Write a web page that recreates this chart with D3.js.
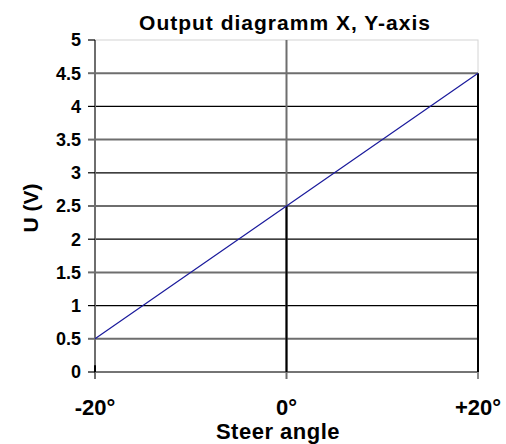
<!DOCTYPE html>
<html>
<head>
	<title>Output diagramm</title>
	<script src="https://d3js.org/d3.v7.min.js"></script>
	<style>
		body { margin: 0; background: #fff; }
		text {
			font-family: "Liberation Sans", Arial, sans-serif;
			font-weight: bold;
			fill: #000;
		}
	</style>
</head>
<body>
	<svg width="506" height="444"></svg>
<script type="text/javascript">

	// chart data
	var angles = [-20, 0, 20];
	var voltages = [0.5, 2.5, 4.5];
	var xTickLabels = ["-20°", "0°", "+20°"];
	var yTicks = [0, 0.5, 1, 1.5, 2, 2.5, 3, 3.5, 4, 4.5, 5];
	var yTickLabels = ["0", "0.5", "1", "1.5", "2", "2.5", "3", "3.5", "4", "4.5", "5"];

	var svg = d3.select("svg"),
		margin = {top: 40, right: 28, bottom: 72, left: 95},
		width = +svg.attr("width") - margin.left - margin.right,
		height = +svg.attr("height") - margin.top - margin.bottom,
		g = svg.append("g").attr("transform", "translate(" + margin.left + "," + margin.top + ")");

	var x = d3.scaleLinear().domain([-20, 20]).range([0, width]);
	var y = d3.scaleLinear().domain([0, 5]).range([height, 0]);

	var points = angles.map(function (a, i) { return {a: a, v: voltages[i]}; });

	// plot border (light)
	g.append("rect")
		.attr("x", 0).attr("y", 0)
		.attr("width", width).attr("height", height)
		.attr("fill", "none")
		.attr("stroke", "#d4d4d4")
		.attr("stroke-width", 1);

	// horizontal grid lines
	g.append("g")
		.selectAll("line")
		.data(yTicks.filter(function (d) { return d < 5; }))
		.enter().append("line")
		.attr("x1", 0).attr("x2", width)
		.attr("y1", function (d) { return y(d); })
		.attr("y2", function (d) { return y(d); })
		.attr("stroke", function (d) { return d % 1 === 0 ? "#000" : "#6e6e6e"; })
		.attr("stroke-width", function (d) { return d % 1 === 0 ? 1.2 : 2; });

	// vertical grid line at 0 (extends below as tick)
	g.append("line")
		.attr("x1", x(0)).attr("x2", x(0))
		.attr("y1", 0).attr("y2", height + 7)
		.attr("stroke", "#6e6e6e")
		.attr("stroke-width", 2);

	// x tick marks at both ends
	g.append("g")
		.selectAll("line")
		.data([20])
		.enter().append("line")
		.attr("x1", function (d) { return x(d); })
		.attr("x2", function (d) { return x(d); })
		.attr("y1", height).attr("y2", height + 7)
		.attr("stroke", "#8a8a8a")
		.attr("stroke-width", 2);

	// drop lines from each point
	g.append("g")
		.selectAll("line")
		.data(points)
		.enter().append("line")
		.attr("x1", function (d) { return x(d.a); })
		.attr("x2", function (d) { return x(d.a); })
		.attr("y1", function (d) { return y(d.v); })
		.attr("y2", function (d) { return y(0); })
		.attr("stroke", "#000")
		.attr("stroke-width", 2);

	// left axis
	g.append("line")
		.attr("x1", 0).attr("x2", 0)
		.attr("y1", 0).attr("y2", y(0.1))
		.attr("stroke", "#6e6e6e")
		.attr("stroke-width", 2);
	g.append("line")
		.attr("x1", 0).attr("x2", 0)
		.attr("y1", height).attr("y2", height + 7)
		.attr("stroke", "#6e6e6e")
		.attr("stroke-width", 2);

	// y ticks + labels
	var yt = g.append("g")
		.selectAll("g")
		.data(yTicks)
		.enter().append("g")
		.attr("transform", function (d) { return "translate(0," + y(d) + ")"; });

	yt.append("line")
		.attr("x1", -7).attr("x2", 0)
		.attr("stroke", function (d) { return d % 1 === 0 ? "#000" : "#6e6e6e"; })
		.attr("stroke-width", function (d) { return d % 1 === 0 ? 1.2 : 2; });

	yt.append("text")
		.attr("x", -14)
		.attr("dy", "0.36em")
		.attr("text-anchor", "end")
		.attr("font-size", 18)
		.text(function (d, i) { return yTickLabels[i]; });

	// data line
	var line = d3.line()
		.x(function (d) { return x(d.a); })
		.y(function (d) { return y(d.v); });

	g.append("path")
		.datum(points)
		.attr("d", line)
		.attr("fill", "none")
		.attr("stroke", "#1a1a9c")
		.attr("stroke-width", 1.2);

	// x tick labels
	g.append("g")
		.selectAll("text")
		.data(angles)
		.enter().append("text")
		.attr("x", function (d) { return x(d); })
		.attr("y", height + 43)
		.attr("text-anchor", "middle")
		.attr("font-size", 22)
		.text(function (d, i) { return xTickLabels[i]; });

	// title
	svg.append("text")
		.attr("x", 285)
		.attr("y", 30)
		.attr("text-anchor", "middle")
		.attr("font-size", 21)
		.attr("letter-spacing", 1)
		.text("Output diagramm X, Y-axis");

	// axis titles
	svg.append("text")
		.attr("x", 278)
		.attr("y", 439)
		.attr("text-anchor", "middle")
		.attr("font-size", 22)
		.attr("letter-spacing", 0.5)
		.text("Steer angle");

	svg.append("text")
		.attr("transform", "translate(38," + (margin.top + height / 2 + 2) + ") rotate(-90)")
		.attr("text-anchor", "middle")
		.attr("font-size", 21)
		.text("U (V)");

</script>
</body>
</html>
